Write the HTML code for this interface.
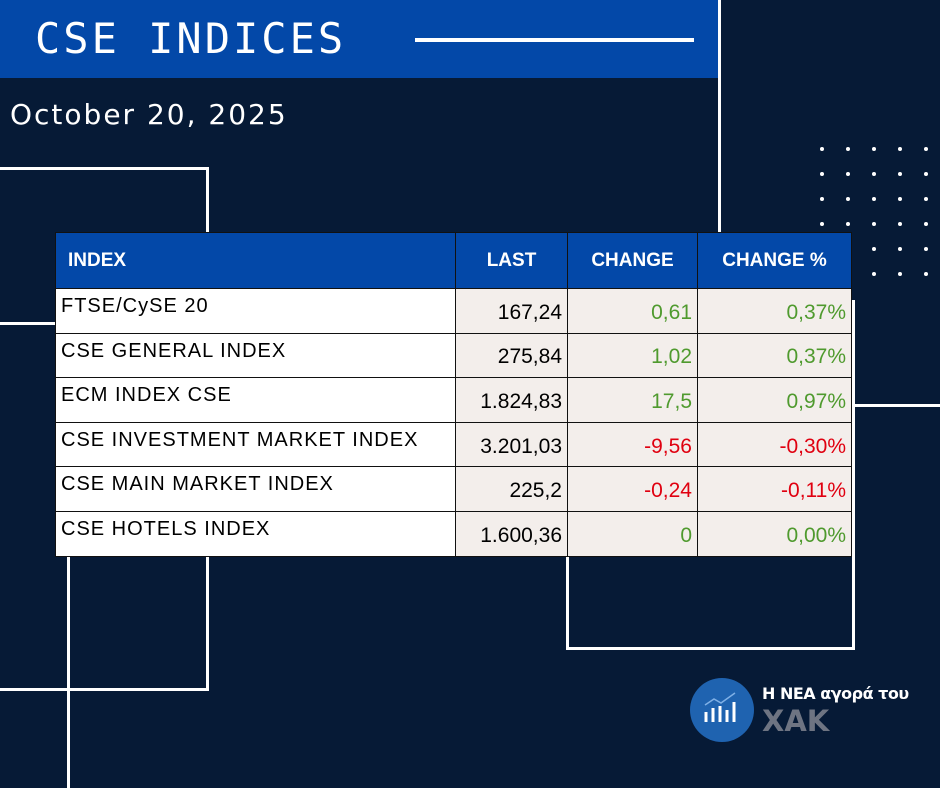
<!DOCTYPE html><html><head><style>
body{margin:0;width:940px;height:788px;background:#061a36;position:relative;overflow:hidden;font-family:"Liberation Sans",sans-serif}
.a{position:absolute}
.w{background:#fff}
table{position:absolute;left:55px;top:232px;border-collapse:collapse;width:796px;table-layout:fixed}
td,th{box-sizing:border-box}
td{border:1.5px solid #111;height:44.6px;padding:0 5px;font-size:21px;line-height:22px}
th{background:#0348a8;color:#fff;height:56px;font-size:19px;text-align:left;padding:0 12px;border:1.5px solid #111}
td{background:#f3eeeb;text-align:right;padding-top:4px}
td:first-child{background:#fff;text-align:left;letter-spacing:1px;font-size:20px;vertical-align:top;padding-top:6px}
.g{color:#4f9a2e}.r{color:#e00010}
.d{position:absolute;width:4px;height:4px;border-radius:2px;background:#fff}
</style></head><body>
<div class="a" style="left:0;top:0;width:718px;height:78px;background:#0348a8"></div>
<div class="a" style="left:35px;top:14px;color:#fff;font-size:42px;letter-spacing:3px;font-family:'DejaVu Sans Mono',monospace;">CSE INDICES</div>
<div class="a w" style="left:415px;top:38px;width:279px;height:4px"></div>
<div class="a w" style="left:718px;top:0;width:3px;height:232px"></div>
<div class="a" style="left:10px;top:98px;color:#fff;font-size:28px;letter-spacing:2px;font-family:'DejaVu Sans',sans-serif">October 20, 2025</div>
<div class="a" style="left:-5px;top:167px;width:208px;height:518px;border:3px solid #fff"></div>
<div class="a w" style="left:0;top:322px;width:70px;height:3px"></div>
<div class="a w" style="left:67px;top:322px;width:3px;height:466px"></div>
<div class="a" style="left:566px;top:300px;width:283px;height:344px;border:3px solid #fff"></div>
<div class="a w" style="left:851px;top:404px;width:89px;height:3px"></div>
<div id="dots"></div>
<table>
<colgroup><col style="width:400px"><col style="width:112px"><col style="width:130px"><col style="width:154px"></colgroup>
<tr><th>INDEX</th><th style="text-align:center">LAST</th><th style="text-align:center">CHANGE</th><th style="text-align:center">CHANGE %</th></tr>
<tr><td>FTSE/CySE 20</td><td>167,24</td><td class="g">0,61</td><td class="g">0,37%</td></tr>
<tr><td>CSE GENERAL INDEX</td><td>275,84</td><td class="g">1,02</td><td class="g">0,37%</td></tr>
<tr><td>ECM INDEX CSE</td><td>1.824,83</td><td class="g">17,5</td><td class="g">0,97%</td></tr>
<tr><td>CSE INVESTMENT MARKET INDEX</td><td>3.201,03</td><td class="r">-9,56</td><td class="r">-0,30%</td></tr>
<tr><td>CSE MAIN MARKET INDEX</td><td>225,2</td><td class="r">-0,24</td><td class="r">-0,11%</td></tr>
<tr><td>CSE HOTELS INDEX</td><td>1.600,36</td><td class="g">0</td><td class="g">0,00%</td></tr>
</table>
<div class="a" style="left:690px;top:678px;width:64px;height:64px;border-radius:32px;background:#1f63b0"></div>
<svg class="a" style="left:690px;top:678px" width="64" height="64"><g stroke="#fff" stroke-width="3"><line x1="16" y1="44" x2="16" y2="34"/><line x1="23" y1="44" x2="23" y2="30"/><line x1="30" y1="44" x2="30" y2="28"/><line x1="37" y1="44" x2="37" y2="32"/><line x1="44" y1="44" x2="44" y2="24"/></g><polyline points="15,27 24,21 31,25 45,15" fill="none" stroke="#7fb0e6" stroke-width="1.5"/></svg>
<div class="a" style="left:762px;top:684px;color:#fff;font-size:16px;font-weight:bold;font-family:'DejaVu Sans',sans-serif;letter-spacing:-0.5px">Η ΝΕΑ αγορά του</div>
<div class="a" style="left:762px;top:704px;color:#6e7482;font-size:29px;font-weight:bold;font-family:'DejaVu Sans',sans-serif">ΧΑΚ</div>
<script>
var s='';var xs=[822,848,874,900,926],ys=[149,174,199,224,249,274];
ys.forEach(function(y,i){xs.forEach(function(x,j){if(i<4||j>=2)s+='<div class="d" style="left:'+(x-2)+'px;top:'+(y-2)+'px"></div>';});});
document.getElementById('dots').innerHTML=s;
</script>
</body></html>
